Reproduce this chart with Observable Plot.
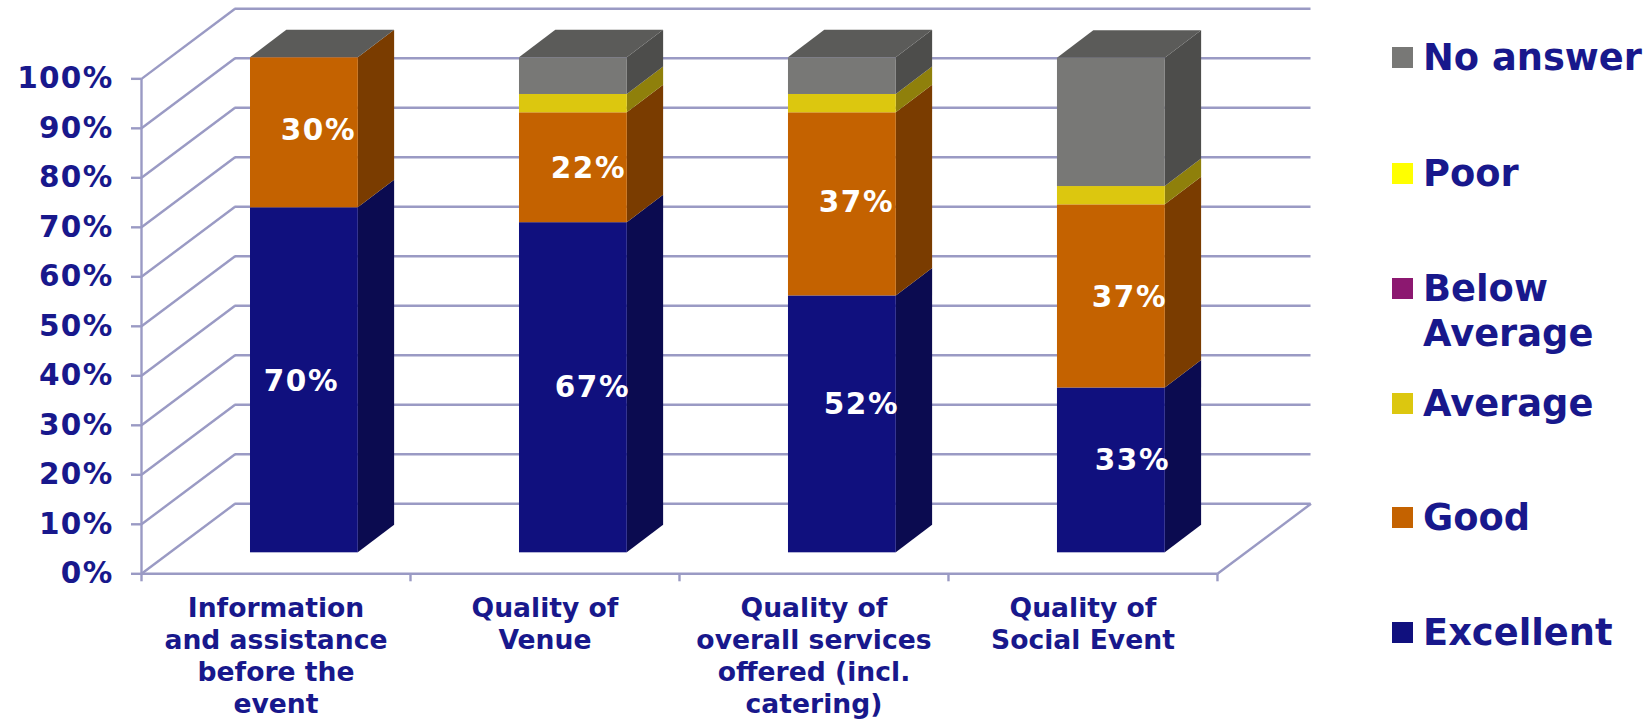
<!DOCTYPE html>
<html>
<head>
<meta charset="utf-8">
<script src="https://cdn.jsdelivr.net/npm/d3@7"></script>
<script src="https://cdn.jsdelivr.net/npm/@observablehq/plot@0.6"></script>
<style>
  html, body { margin: 0; padding: 0; background: #fff; }
  #wrap { position: relative; width: 1651px; height: 719px; overflow: hidden; font-family: "DejaVu Sans", sans-serif; }
  #legend { position: absolute; left: 1392px; top: 0; color: #18188c; font-weight: 700; font-size: 36.8px; line-height: 45px; }
  .row { position: absolute; left: 0; display: flex; align-items: flex-start; white-space: pre; }
  .sw { width: 21px; height: 21px; margin: 12px 10px 0 0; flex: none; }
  g[aria-label="y-axis tick label"] text { letter-spacing: 1.3px; }
  g[aria-label="text"][fill="#fff"] text { letter-spacing: 1.6px; }
</style>
</head>
<body>
<div id="wrap"><div id="legend"></div></div>
<script>
const categories = [
  "Information\nand assistance\nbefore the\nevent",
  "Quality of\nVenue",
  "Quality of\noverall services\noffered (incl.\ncatering)",
  "Quality of\nSocial Event"
];
const seriesNames = ["Excellent", "Good", "Average", "Below Average", "Poor", "No answer"];
const excellent    = [69.7, 66.7, 51.9, 33.3];
const good         = [30.3, 22.2, 37.0, 37.0];
const average      = [0, 3.7, 3.7, 3.7];
const belowAverage = [0, 0, 0, 0];
const poor         = [0, 0, 0, 0];
const noAnswer     = [0, 7.4, 7.4, 25.9];
const yTicks = [0, 10, 20, 30, 40, 50, 60, 70, 80, 90, 100];
const labelled = ["Excellent", "Good"];

const frontColors = ["#10107e", "#c46200", "#dcc70f", "#8c1870", "#ffff00", "#787876"];
const sideColors  = ["#0b0b50", "#7a3c00", "#8f800b", "#58104a", "#a0a000", "#4d4d4b"];
const topColor = "#5b5b59";
const gridColor = "#9a9ac4";
const textColor = "#18188c";

// 3D projection, in chart units (x: one category = 1; y: percentage points)
const wallX = 0.3477, wallY = 14.15;
const planeX = 0.1056, planeY = 4.24;
const depthX = 0.135, depthY = 5.56;
const halfBar = 0.2004;

const allValues = [excellent, good, average, belowAverage, poor, noAnswer];
const segments = [];
categories.forEach((c, i) => {
  let base = 0;
  seriesNames.forEach((s, k) => {
    const v = allValues[k][i];
    if (v > 0) segments.push({i, series: s, k, v, y0: base, y1: base + v, id: i + "-" + k});
    base += v;
  });
});
const left = d => d.i + 0.5 - halfBar + planeX;
const right = d => d.i + 0.5 + halfBar + planeX;

const sidePts = segments.flatMap(d => [
  {id: d.id, k: d.k, x: right(d), y1: d.y0 + planeY, y2: d.y1 + planeY},
  {id: d.id, k: d.k, x: right(d) + depthX, y1: d.y0 + planeY + depthY, y2: d.y1 + planeY + depthY}
]);
const topPts = categories.flatMap((c, i) => {
  const total = d3.sum(allValues, a => a[i]);
  return [
    {i, x1: left({i}), x2: right({i}), y: total + planeY},
    {i, x1: left({i}) + depthX, x2: right({i}) + depthX, y: total + planeY + depthY}
  ];
});

// per-label placement nudges (px), matching where the source chart put each label
const nudges = {
  "0-0": [-3, 1], "0-1": [14, -2],
  "1-0": [19, 0], "1-1": [15, 1],
  "2-0": [19, -20], "2-1": [14, -2],
  "3-0": [21, -10], "3-1": [18, 1]
};
const labelMarks = segments.filter(d => labelled.includes(d.series)).map(d => {
  const [dx, dy] = nudges[d.i + "-" + d.k];
  return Plot.text([d], {
    x: p => (left(p) + right(p)) / 2,
    y: p => (p.y0 + p.y1) / 2 + planeY,
    text: p => Math.round(p.v) + "%",
    fill: "#fff", fontWeight: 700, fontSize: 29.5, dx, dy
  });
});

const chart = Plot.plot({
  width: 1651, height: 719,
  marginTop: 8.3, marginBottom: 145.7, marginLeft: 141, marginRight: 340.5,
  style: {fontFamily: '"DejaVu Sans", sans-serif', background: "transparent", overflow: "visible"},
  x: {domain: [0, 4 + wallX], range: [141, 1310.5], label: null},
  y: {domain: [0, 100 + wallY], range: [573.3, 8.3], label: null},
  color: {domain: seriesNames, range: frontColors},
  marks: [
    // back wall gridlines and the left wall diagonals
    Plot.ruleY(yTicks, {
      x1: () => wallX, x2: () => 4 + wallX, y: d => d + wallY,
      stroke: gridColor, strokeWidth: 2.4
    }),
    Plot.link(yTicks, {
      x1: () => 0, x2: () => wallX, y1: d => d, y2: d => d + wallY,
      stroke: gridColor, strokeWidth: 2.4
    }),
    Plot.link([0], {
      x1: () => 4, x2: () => 4 + wallX, y1: () => 0, y2: () => wallY,
      stroke: gridColor, strokeWidth: 2.4
    }),
    // axis lines
    Plot.ruleX([0], {y1: 0, y2: 100, stroke: gridColor, strokeWidth: 2.4}),
    Plot.ruleY([0], {x1: 0, x2: 4, stroke: gridColor, strokeWidth: 2.4}),
    Plot.axisY({
      ticks: yTicks, tickSize: 10, tickPadding: 18, stroke: gridColor, strokeWidth: 2.4,
      tickFormat: d => d + "%", fill: textColor, fontWeight: 700, fontSize: 29.5, label: null, marginLeft: 141
    }),
    Plot.axisX({
      ticks: [0, 1, 2, 3, 4], tickSize: 8, tickFormat: () => "", stroke: gridColor, strokeWidth: 2.4, label: null
    }),
    Plot.text(categories, {
      x: (d, i) => i + 0.5, y: () => 0, text: d => d,
      dy: 21, lineAnchor: "top", lineHeight: 1.2,
      fill: textColor, fontWeight: 700, fontSize: 26.6
    }),
    // bars: side faces, top faces, front faces
    Plot.area(sidePts, {
      x1: "x", y1: "y1", y2: "y2", z: "id",
      fill: {value: d => sideColors[d.k], scale: null}
    }),
    Plot.area(topPts, {x1: "x1", x2: "x2", y1: "y", z: "i", fill: topColor}),
    Plot.rect(segments, {
      x1: left, x2: right,
      y1: d => d.y0 + planeY, y2: d => d.y1 + planeY,
      fill: "series"
    }),
    ...labelMarks
  ]
});
document.getElementById("wrap").prepend(chart);

// legend, top entry first
const legendTop = [35, 150.5, 265.5, 380.5, 495, 610];
const legend = d3.select("#legend");
[...seriesNames].reverse().forEach((name, n) => {
  const row = legend.append("div").attr("class", "row").style("top", legendTop[n] + "px");
  row.append("div").attr("class", "sw").style("background", frontColors[seriesNames.indexOf(name)]);
  row.append("div").text(name.replace("Below Average", "Below\nAverage"));
});
</script>
</body>
</html>
